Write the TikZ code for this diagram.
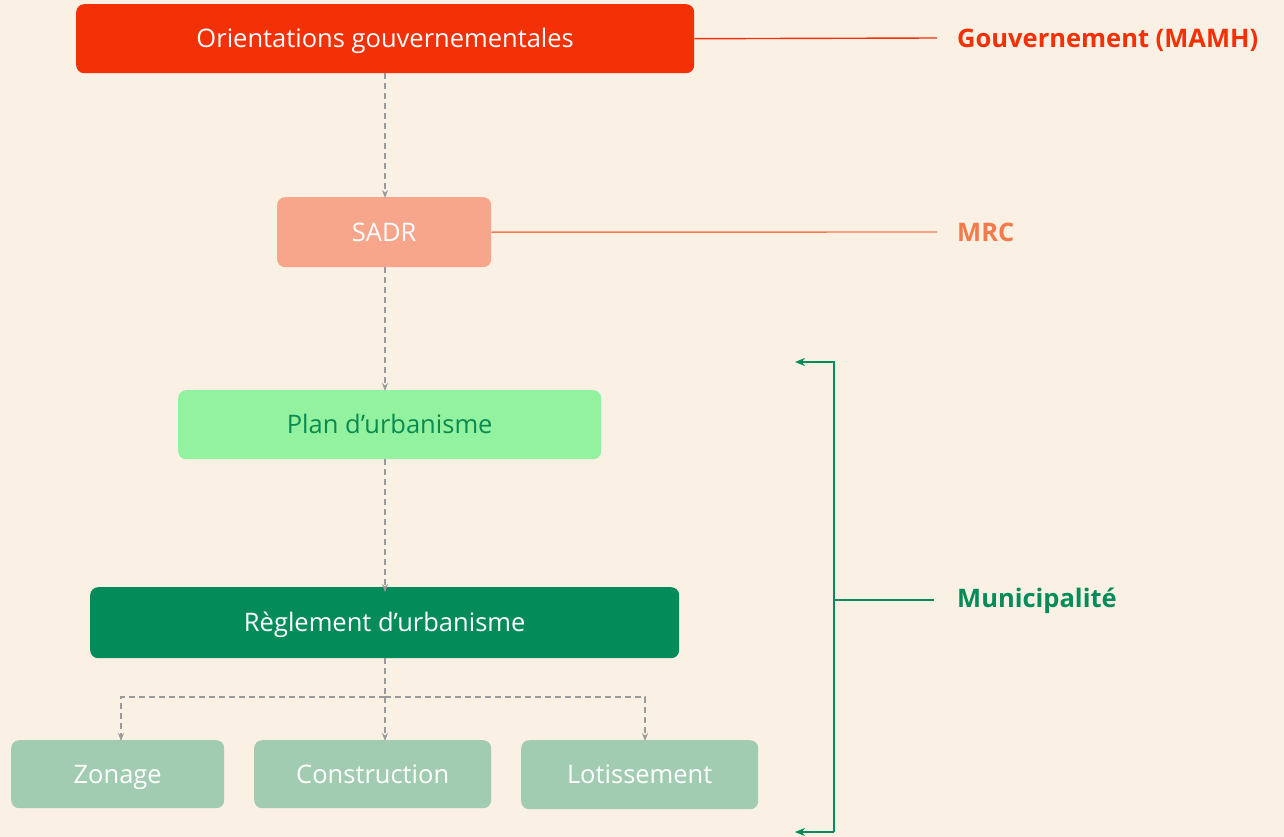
\documentclass[tikz,border=0pt]{standalone}
\usepackage{fontspec}
\setmainfont{Open Sans}
\usetikzlibrary{arrows.meta}
\definecolor{bg}{HTML}{FAF0E4}
\definecolor{govred}{HTML}{F33006}
\definecolor{mrcfill}{HTML}{F7A58B}
\definecolor{mrcline}{HTML}{F47A4A}
\definecolor{planfill}{HTML}{92F29F}
\definecolor{dgreen}{HTML}{038C5A}
\definecolor{plantext}{HTML}{0B8A4F}
\definecolor{subfill}{HTML}{A2CCB2}
\definecolor{dashgray}{HTML}{9A9A9A}
\tikzset{
  boxstyle/.style={rounded corners=8pt, inner sep=0pt, anchor=north west},
  btext/.style={font=\fontsize{25.5}{30}\selectfont, inner sep=0pt, text height=18.5pt, text depth=0pt},
  flow/.style={draw=dashgray, line width=1.4pt, dash pattern=on 6pt off 4pt, -{Stealth[length=8pt,width=6pt]}},
  flowplain/.style={draw=dashgray, line width=1.4pt, dash pattern=on 6pt off 4pt},
  lbl/.style={font=\fontsize{25.5}{30}\selectfont\bfseries, anchor=west, inner sep=0pt, text height=18.5pt, text depth=0pt},
  garrow/.style={draw=dgreen, line width=1.6pt, -{Stealth[length=10pt,width=8pt]}}
}
\begin{document}
\begin{tikzpicture}[x=1pt,y=-1pt]
\fill[bg] (0,0) rectangle (1284,837);
\useasboundingbox (0,0) rectangle (1284,837);

% boxes
\node[boxstyle, fill=govred, minimum width=618pt, minimum height=69pt] (gov) at (76,4) {};
\node[btext, text=white] (govt) at (gov.center) {Orientations gouvernementales};

\node[boxstyle, fill=mrcfill, minimum width=214pt, minimum height=70pt] (sadr) at (277,197) {};
\node[btext, text=white] (sadrt) at (sadr.center) {SADR};

\node[boxstyle, fill=planfill, minimum width=423pt, minimum height=69pt] (plan) at (178,390) {};
\node[btext, text=plantext] (plant) at (plan.center) {Plan d’urbanisme};

\node[boxstyle, fill=dgreen, minimum width=589pt, minimum height=71pt] (reg) at (90,587) {};
\node[btext, text=white] (regt) at (reg.center) {Règlement d’urbanisme};

\node[boxstyle, fill=subfill, minimum width=213pt, minimum height=68pt] (zon) at (11,740) {};
\node[btext, text=white] (zont) at (zon.center) {Zonage};
\node[boxstyle, fill=subfill, minimum width=237pt, minimum height=68pt] (con) at (254,740) {};
\node[btext, text=white] (cont) at (con.center) {Construction};
\node[boxstyle, fill=subfill, minimum width=237pt, minimum height=69pt] (lot) at (521,740) {};
\node[btext, text=white] (lott) at (lot.center) {Lotissement};

% right labels
\node[lbl, text=govred] (lgov) at (957,38) {Gouvernement (MAMH)};
\node[lbl, text=mrcline] (lmrc) at (957,232) {MRC};
\node[lbl, text=dgreen] (lmun) at (957,598) {Municipalité};

% level lines
\draw[govred, line width=1.4pt] (gov.east) -- ([xshift=-20pt]lgov.west);
\draw[mrcline, line width=1.4pt] (sadr.east) -- ([xshift=-20pt]lmrc.west);

% flow arrows
\coordinate (cx) at (385,0);
\draw[flow] (gov.south -| cx) -- ([yshift=-1pt]sadr.north -| cx);
\draw[flow] (sadr.south -| cx) -- ([yshift=-1pt]plan.north -| cx);
\draw[flow] (plan.south -| cx) -- ([yshift=-5pt]reg.north -| cx);
\coordinate (split) at (385,697);
\draw[flowplain] (reg.south -| cx) -- (split);
\coordinate (zx) at (121,697);
\coordinate (lx) at (645,697);
\draw[flow] (split) -- (zx) -- ([yshift=-1pt]zon.north -| zx);
\draw[flow] (split) -- (lx) -- ([yshift=-1pt]lot.north -| lx);
\draw[flow] (split) -- ([yshift=-1pt]con.north -| cx);

% municipality bracket
\coordinate (bt) at (795,362);
\coordinate (bb) at (795,832);
\coordinate (bx) at (834,600);
\draw[garrow] (bx |- bb) -- (bb);
\draw[garrow] (bx |- bb) -- (bx |- bt) -- (bt);
\draw[dgreen, line width=1.6pt] (bx) -- ([xshift=-23pt]lmun.west |- bx);
\end{tikzpicture}
\end{document}
